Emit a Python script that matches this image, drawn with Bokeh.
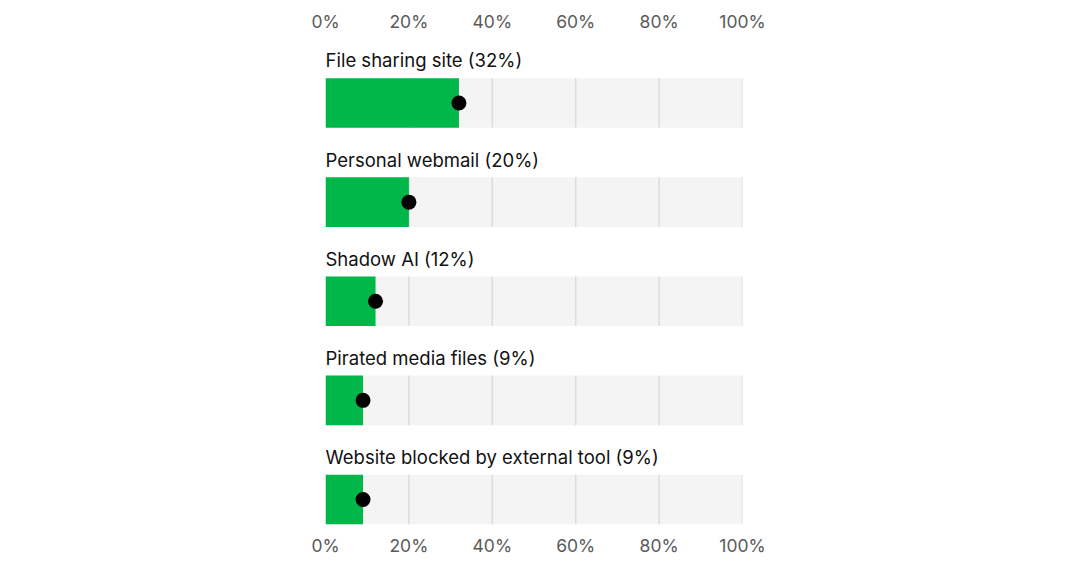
from bokeh.plotting import figure
from bokeh.models import Range1d, LinearAxis, FixedTicker, PrintfTickFormatter, ColumnDataSource
from bokeh.core.properties import value
from bokeh.embed import file_html
from bokeh.resources import INLINE

categories = ["File sharing site", "Personal webmail", "Shadow AI",
              "Pirated media files", "Website blocked by external tool"]
values = [32, 20, 12, 9, 9]
tick_values = [0, 20, 40, 60, 80, 100]

pos = list(range(len(categories)))
labels = [f"{c} ({v}%)" for c, v in zip(categories, values)]

src = ColumnDataSource(dict(y=pos, v=values, full=[100] * len(pos), label=labels,
                            ly=[p_ - 0.43 for p_ in pos], lx=[0] * len(pos)))

p = figure(width=1080, height=567, output_backend="svg", toolbar_location=None,
           x_range=Range1d(0, 100), y_range=Range1d(4.313, -0.631),
           min_border_left=325, min_border_right=338, min_border_top=40, min_border_bottom=37,
           x_axis_location=None, y_axis_location=None)
p.outline_line_color = None
p.xgrid.visible = False
p.ygrid.visible = False
p.background_fill_color = "white"
p.border_fill_color = "white"

bar_h = 0.5
p.hbar(y="y", left=0, right="full", height=bar_h, source=src, fill_color="#f4f4f4", line_color=None)

gx, gy0, gy1 = [], [], []
for y in pos:
    for t in tick_values[1:]:
        gx.append(t); gy0.append(y - bar_h / 2); gy1.append(y + bar_h / 2)
p.segment(x0=gx, x1=gx, y0=gy0, y1=gy1, line_color="#dcdcdc", line_width=1.5)

p.hbar(y="y", left=0, right="v", height=bar_h, source=src, fill_color="#00b84a", line_color=None)
p.scatter(x="v", y="y", size=15, source=src, fill_color="black", line_color=None)

p.text(x="lx", y="ly", text="label", source=src, text_font=value("Inter"),
       text_font_size="18.5px", text_color="#111111", text_baseline="middle", text_align="left")

for loc, standoff in (("above", 3), ("below", -2)):
    ax = LinearAxis(ticker=FixedTicker(ticks=tick_values),
                    formatter=PrintfTickFormatter(format="%d%%"))
    ax.axis_line_color = None
    ax.major_tick_line_color = None
    ax.minor_tick_line_color = None
    ax.major_label_standoff = standoff
    ax.major_label_text_font = "Inter"
    ax.major_label_text_font_size = "17.5px"
    ax.major_label_text_color = "#5a5a5a"
    p.add_layout(ax, loc)

open("out.html", "w").write(file_html(p, INLINE))
